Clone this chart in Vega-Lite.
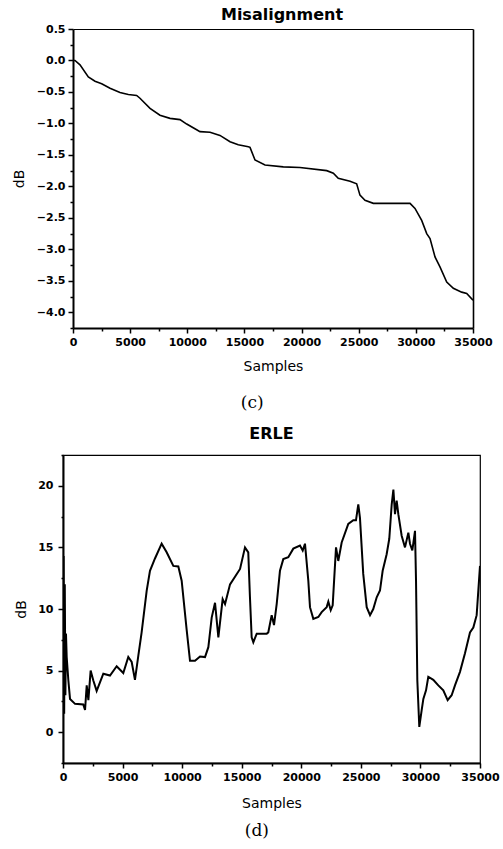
{
  "$schema": "https://vega.github.io/schema/vega-lite/v6.json",
  "background": "white",
  "padding": {"left": 12, "top": 7, "right": 0, "bottom": 5},
  "columns": 1,
  "spacing": 14,
  "config": {
    "view": {"stroke": "black", "strokeWidth": 1.2},
    "axis": {
      "domainColor": "black", "domainWidth": 2, "tickColor": "black", "tickWidth": 1.5,
      "labelFont": "DejaVu Sans", "labelFontWeight": "bold", "labelFontSize": 11, "labelColor": "black",
      "titleFont": "DejaVu Sans", "titleFontWeight": "normal", "titleFontSize": 14, "titleColor": "black",
      "grid": false
    },
    "title": {"font": "DejaVu Sans", "fontWeight": "bold", "fontSize": 16, "color": "black"}
  },
  "datasets": {
    "mis": [
      {"s": 0, "v": 0.0}, {"s": 175, "v": 0.0}, {"s": 612, "v": -0.07}, {"s": 1340, "v": -0.26}, {"s": 1925, "v": -0.33},
      {"s": 2510, "v": -0.37}, {"s": 3240, "v": -0.44}, {"s": 4110, "v": -0.51}, {"s": 4840, "v": -0.54},
      {"s": 5570, "v": -0.555}, {"s": 5860, "v": -0.6}, {"s": 6740, "v": -0.76}, {"s": 7610, "v": -0.87},
      {"s": 8490, "v": -0.92}, {"s": 9360, "v": -0.94}, {"s": 9950, "v": -1.01}, {"s": 10820, "v": -1.1},
      {"s": 11110, "v": -1.13}, {"s": 11990, "v": -1.14}, {"s": 12860, "v": -1.19}, {"s": 13740, "v": -1.29},
      {"s": 14460, "v": -1.34}, {"s": 15340, "v": -1.37}, {"s": 15490, "v": -1.38}, {"s": 15925, "v": -1.58},
      {"s": 16800, "v": -1.66}, {"s": 18400, "v": -1.69}, {"s": 19860, "v": -1.7}, {"s": 22200, "v": -1.75},
      {"s": 22780, "v": -1.79}, {"s": 23210, "v": -1.87}, {"s": 24240, "v": -1.92}, {"s": 24820, "v": -1.96},
      {"s": 25110, "v": -2.14}, {"s": 25550, "v": -2.22}, {"s": 26280, "v": -2.27}, {"s": 29490, "v": -2.27},
      {"s": 29925, "v": -2.35}, {"s": 30510, "v": -2.54}, {"s": 30950, "v": -2.75}, {"s": 31240, "v": -2.83},
      {"s": 31675, "v": -3.12}, {"s": 32110, "v": -3.28}, {"s": 32700, "v": -3.52}, {"s": 33280, "v": -3.62},
      {"s": 34010, "v": -3.68}, {"s": 34450, "v": -3.7}, {"s": 35000, "v": -3.81}
    ],
    "erle": [
      {"s": 0, "v": 2.0}, {"s": 50, "v": 14.3}, {"s": 100, "v": 1.5}, {"s": 150, "v": 12.0}, {"s": 200, "v": 3.0},
      {"s": 250, "v": 8.0}, {"s": 310, "v": 6.1}, {"s": 450, "v": 4.2}, {"s": 590, "v": 2.7}, {"s": 1010, "v": 2.3},
      {"s": 1700, "v": 2.25}, {"s": 1850, "v": 1.8}, {"s": 1990, "v": 3.8}, {"s": 2130, "v": 2.6}, {"s": 2320, "v": 5.0},
      {"s": 2545, "v": 4.2}, {"s": 2825, "v": 3.35}, {"s": 3385, "v": 4.75}, {"s": 3945, "v": 4.6}, {"s": 4505, "v": 5.35},
      {"s": 5060, "v": 4.8}, {"s": 5480, "v": 6.1}, {"s": 5765, "v": 5.7}, {"s": 6040, "v": 4.25}, {"s": 6320, "v": 6.2},
      {"s": 6600, "v": 8.1}, {"s": 7025, "v": 11.5}, {"s": 7300, "v": 13.1}, {"s": 7720, "v": 14.1}, {"s": 8280, "v": 15.3},
      {"s": 8700, "v": 14.6}, {"s": 9260, "v": 13.5}, {"s": 9680, "v": 13.45}, {"s": 9960, "v": 12.3}, {"s": 10380, "v": 8.3},
      {"s": 10660, "v": 5.8}, {"s": 11080, "v": 5.8}, {"s": 11500, "v": 6.15}, {"s": 11920, "v": 6.1}, {"s": 12200, "v": 6.9},
      {"s": 12480, "v": 9.3}, {"s": 12760, "v": 10.5}, {"s": 13040, "v": 7.7}, {"s": 13400, "v": 10.8}, {"s": 13600, "v": 10.4},
      {"s": 14020, "v": 12.0}, {"s": 14860, "v": 13.25}, {"s": 15275, "v": 15.0}, {"s": 15550, "v": 14.6}, {"s": 15690, "v": 11.0},
      {"s": 15835, "v": 7.7}, {"s": 15975, "v": 7.3}, {"s": 16260, "v": 8.0}, {"s": 17100, "v": 8.0}, {"s": 17230, "v": 8.1},
      {"s": 17515, "v": 9.5}, {"s": 17710, "v": 8.7}, {"s": 17935, "v": 10.4}, {"s": 18210, "v": 13.1}, {"s": 18490, "v": 14.05},
      {"s": 18910, "v": 14.2}, {"s": 19330, "v": 14.9}, {"s": 19890, "v": 15.15}, {"s": 20120, "v": 14.75}, {"s": 20310, "v": 15.3},
      {"s": 20590, "v": 12.3}, {"s": 20730, "v": 10.15}, {"s": 21010, "v": 9.2}, {"s": 21430, "v": 9.35}, {"s": 21710, "v": 9.75},
      {"s": 22130, "v": 10.15}, {"s": 22270, "v": 10.6}, {"s": 22470, "v": 9.9}, {"s": 22635, "v": 10.3}, {"s": 22915, "v": 15.0},
      {"s": 23105, "v": 13.9}, {"s": 23390, "v": 15.4}, {"s": 23945, "v": 16.9}, {"s": 24365, "v": 17.2}, {"s": 24590, "v": 17.2},
      {"s": 24785, "v": 18.5}, {"s": 24925, "v": 17.4}, {"s": 25200, "v": 12.85}, {"s": 25490, "v": 10.15}, {"s": 25770, "v": 9.5},
      {"s": 26040, "v": 10.0}, {"s": 26330, "v": 10.95}, {"s": 26605, "v": 11.5}, {"s": 26830, "v": 13.1}, {"s": 27165, "v": 14.45},
      {"s": 27385, "v": 15.7}, {"s": 27590, "v": 18.5}, {"s": 27730, "v": 19.7}, {"s": 27865, "v": 17.7}, {"s": 28005, "v": 18.8},
      {"s": 28145, "v": 17.7}, {"s": 28425, "v": 15.95}, {"s": 28705, "v": 15.0}, {"s": 28985, "v": 16.2}, {"s": 29125, "v": 15.3},
      {"s": 29320, "v": 14.75}, {"s": 29545, "v": 16.35}, {"s": 29630, "v": 12.3}, {"s": 29740, "v": 4.2}, {"s": 29905, "v": 0.43},
      {"s": 30105, "v": 1.8}, {"s": 30245, "v": 2.7}, {"s": 30470, "v": 3.4}, {"s": 30660, "v": 4.5}, {"s": 31080, "v": 4.25},
      {"s": 31500, "v": 3.8}, {"s": 31920, "v": 3.4}, {"s": 32285, "v": 2.6}, {"s": 32620, "v": 3.0}, {"s": 32900, "v": 3.8},
      {"s": 33320, "v": 4.9}, {"s": 33740, "v": 6.4}, {"s": 34160, "v": 8.1}, {"s": 34440, "v": 8.5}, {"s": 34720, "v": 9.5},
      {"s": 35000, "v": 13.5}
    ]
  },
  "concat": [
    {
      "title": {"text": "(c)", "orient": "bottom", "font": "DejaVu Serif", "fontWeight": "normal", "fontSize": 17, "anchor": "middle", "offset": 22},
      "vconcat": [
        {
          "title": {"text": "Misalignment", "anchor": "middle", "offset": 0, "dx": 14},
          "width": 410,
          "height": 299,
          "view": {"stroke": null},
          "data": {"name": "mis"},
          "layer": [
            {
              "mark": {"type": "line", "color": "black", "strokeWidth": 1.6, "clip": true},
              "encoding": {
                "x": {"field": "s", "type": "quantitative", "title": "Samples",
                  "scale": {"domain": [0, 35000], "nice": false, "zero": false, "range": [10, 410]},
                  "axis": {"values": [0, 2500, 5000, 7500, 10000, 12500, 15000, 17500, 20000, 22500, 25000, 27500, 30000, 32500, 35000],
                    "format": "d", "labelExpr": "datum.value % 5000 == 0 ? datum.label : ''",
                    "tickSize": {"condition": {"test": "datum.value % 5000 != 0", "value": 3}, "value": 5},
                    "labelPadding": 3, "titlePadding": 12, "labelFlush": false}},
                "y": {"field": "v", "type": "quantitative", "title": "dB",
                  "scale": {"domain": [-4.25, 0.5], "nice": false, "zero": false},
                  "axis": {"values": [-4.25, -4.0, -3.75, -3.5, -3.25, -3.0, -2.75, -2.5, -2.25, -2.0, -1.75, -1.5, -1.25, -1.0, -0.75, -0.5, -0.25, 0.0, 0.25, 0.5],
                    "labelExpr": "abs(datum.value*2 - round(datum.value*2)) > 0.01 ? '' : format(datum.value, '.1f')",
                    "tickSize": {"condition": {"test": "abs(datum.value*2 - round(datum.value*2)) > 0.01", "value": 3}, "value": 5},
                    "labelPadding": 3, "titlePadding": 10, "offset": -10}}
              }
            },
            {
              "mark": {"type": "line", "opacity": 0},
              "encoding": {
                "x": {"field": "s", "type": "quantitative",
                  "axis": {"orient": "top", "labels": false, "ticks": false, "title": null, "domainWidth": 1}},
                "y": {"field": "v", "type": "quantitative",
                  "axis": {"orient": "right", "labels": false, "ticks": false, "title": null, "domainWidth": 1.6}}
              }
            }
          ],
          "resolve": {"axis": {"x": "independent", "y": "independent"}}
        }
      ]
    },
    {
      "title": {"text": "(d)", "orient": "bottom", "font": "DejaVu Serif", "fontWeight": "normal", "fontSize": 17, "anchor": "middle", "offset": 12},
      "vconcat": [
        {
          "title": {"text": "ERLE", "anchor": "middle", "offset": 12},
          "width": 417,
          "height": 308,
          "data": {"name": "erle"},
          "mark": {"type": "line", "color": "black", "strokeWidth": 2, "clip": true},
          "encoding": {
            "x": {"field": "s", "type": "quantitative", "title": "Samples",
              "scale": {"domain": [0, 35000], "nice": false, "zero": false},
              "axis": {"values": [0, 2500, 5000, 7500, 10000, 12500, 15000, 17500, 20000, 22500, 25000, 27500, 30000, 32500, 35000],
                "format": "d", "labelExpr": "datum.value % 5000 == 0 ? datum.label : ''",
                "tickSize": {"condition": {"test": "datum.value % 5000 != 0", "value": 3}, "value": 5},
                "labelPadding": 3, "titlePadding": 14, "labelFlush": false}},
            "y": {"field": "v", "type": "quantitative", "title": "dB",
              "scale": {"domain": [-2.5, 22.5], "nice": false, "zero": false},
              "axis": {"values": [-2.5, 0, 2.5, 5, 7.5, 10, 12.5, 15, 17.5, 20, 22.5],
                "labelExpr": "datum.value % 5 == 0 ? datum.label : ''",
                "tickSize": {"condition": {"test": "datum.value % 5 != 0", "value": 2}, "value": 5},
                "labelPadding": 5, "titlePadding": 9}}
          }
        }
      ]
    }
  ]
}
